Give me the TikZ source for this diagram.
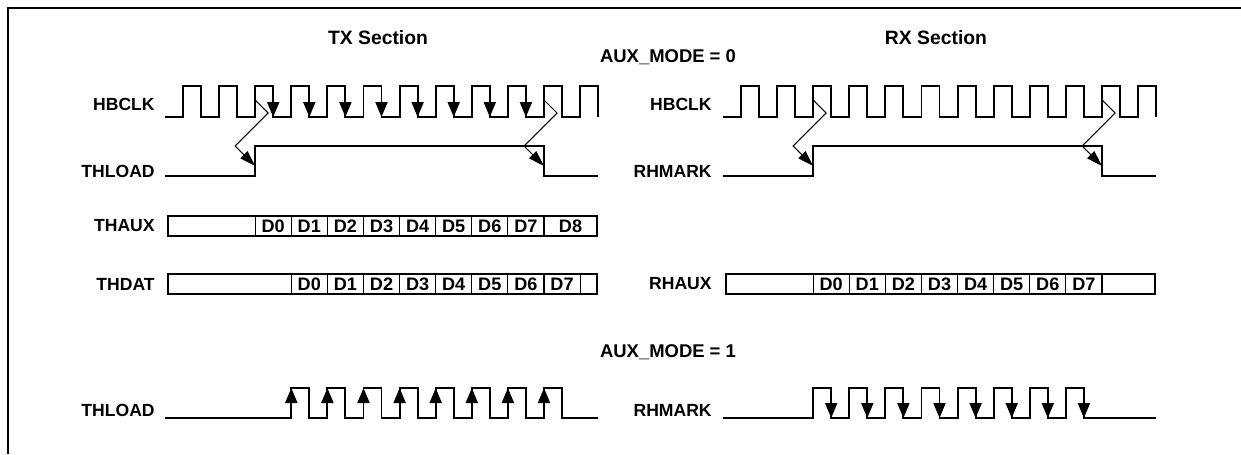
\documentclass[tikz,border=0pt]{standalone}
\usepackage{fontspec}
\setmainfont{Liberation Sans}
\usetikzlibrary{arrows.meta}

\tikzset{
	sig/.style={line width=1.1pt, line join=miter},
	frame/.style={line width=1.1pt},
	bus/.style={line width=1.1pt},
	cell/.style={line width=0.6pt},
	edgetip/.style={line width=1.1pt, -{Triangle[length=0.3cm,width=0.24cm]}},
	cause/.style={line width=0.6pt, -{Triangle[length=0.32cm,width=0.2cm]}},
	sigl/.style={anchor=east, inner sep=0pt, font=\bfseries\fontsize{10pt}{12pt}\selectfont},
	cellt/.style={inner sep=0pt, font=\bfseries\fontsize{10.3pt}{12pt}\selectfont},
	headt/.style={inner sep=0pt, font=\bfseries\fontsize{11pt}{13pt}\selectfont},
	modet/.style={inner sep=0pt, font=\bfseries\fontsize{10.5pt}{12pt}\selectfont}
}

\begin{document}
\begin{tikzpicture}[x=0.02cm, y=-0.02cm]
	\useasboundingbox (0,0) rectangle (1241,454);
	% Frame and headings
	\draw[frame] (8,454) -- (8,8) -- (1241,8);
	\node[headt] (txhead) at (378,38) {TX Section};
	\node[headt] (rxhead) at (936,38) {RX Section};
	\node[modet] (modezero) at (668,57) {AUX\_MODE = 0};
	\node[modet] (modeone) at (668,352) {AUX\_MODE = 1};
	% TX clock
	\node[sigl] (txclk) at (155,104) {HBCLK};
	\draw[sig] (165,117) foreach \k in {0,...,11} { -- ({183+36.1*\k},117) -- ({183+36.1*\k},86) -- ({201+36.1*\k},86) -- ({201+36.1*\k},117) };
	\foreach \k in {2,...,9}
		\draw[edgetip] ({201+36.1*\k},86) -- ({201+36.1*\k},117);
	% TX load, AUX_MODE = 0
	\node[sigl] (txload) at (155,171) {THLOAD};
	\draw[sig] (165,176) -- (255.2,176) -- (255.2,146) -- (544,146) -- (544,176) -- (598,176);
	\coordinate (txclkup) at (255.2,100);
	\coordinate (txloadup) at (255.2,166);
	\coordinate (txclkdn) at (544,100);
	\coordinate (txloaddn) at (544,166);
	\draw[cause] (txclkup) -- ++(13,13) -- ++(-33,33) -- (txloadup);
	\draw[cause] (txclkdn) -- ++(13,13) -- ++(-33,33) -- (txloaddn);
	% TX data
	\node[sigl] (thaux) at (155,226) {THAUX};
	\draw[bus] (168,216) rectangle (597,236);
	\foreach \k in {2,...,10}
		\draw[cell] ({183+36.1*\k},216) -- ({183+36.1*\k},236);
	\foreach \k in {0,...,7}
		\node[cellt] (thauxd\k) at ({201+36.1*(\k+2)},226) {D\k};
	\node[cellt] (thauxdlast) at (570.5,226) {D8};
	\node[sigl] (thdat) at (155,284) {THDAT};
	\draw[bus] (168,274) rectangle (597,294);
	\foreach \k in {3,...,11}
		\draw[cell] ({183+36.1*\k},274) -- ({183+36.1*\k},294);
	\foreach \k in {0,...,7}
		\node[cellt] (thdatd\k) at ({201+36.1*(\k+3)},284) {D\k};
	% TX load, AUX_MODE = 1
	\node[sigl] (txloadb) at (155,410) {THLOAD};
	\draw[sig] (165,418) foreach \k in {3,...,10} { -- ({183+36.1*\k},418) -- ({183+36.1*\k},388) -- ({201+36.1*\k},388) -- ({201+36.1*\k},418) } -- (598,418);
	\foreach \k in {3,...,10}
		\draw[edgetip] ({183+36.1*\k},418) -- ({183+36.1*\k},388);
	% RX clock
	\node[sigl] (rxclk) at (712,104) {HBCLK};
	\draw[sig] (723,117) foreach \k in {0,...,11} { -- ({741+36.1*\k},117) -- ({741+36.1*\k},86) -- ({759+36.1*\k},86) -- ({759+36.1*\k},117) };
	% RX mark, AUX_MODE = 0
	\node[sigl] (rxmark) at (712,171) {RHMARK};
	\draw[sig] (723,176) -- (813.2,176) -- (813.2,146) -- (1102,146) -- (1102,176) -- (1156,176);
	\coordinate (rxclkup) at (813.2,100);
	\coordinate (rxmarkup) at (813.2,166);
	\coordinate (rxclkdn) at (1102,100);
	\coordinate (rxmarkdn) at (1102,166);
	\draw[cause] (rxclkup) -- ++(13,13) -- ++(-33,33) -- (rxmarkup);
	\draw[cause] (rxclkdn) -- ++(13,13) -- ++(-33,33) -- (rxmarkdn);
	% RX data
	\node[sigl] (rhaux) at (712,284) {RHAUX};
	\draw[bus] (726,274) rectangle (1155,294);
	\foreach \k in {2,...,10}
		\draw[cell] ({741+36.1*\k},274) -- ({741+36.1*\k},294);
	\foreach \k in {0,...,7}
		\node[cellt] (rhauxd\k) at ({759+36.1*(\k+2)},284) {D\k};
	% RX mark, AUX_MODE = 1
	\node[sigl] (rxmarkb) at (712,410) {RHMARK};
	\draw[sig] (723,418) foreach \k in {2,...,9} { -- ({741+36.1*\k},418) -- ({741+36.1*\k},388) -- ({759+36.1*\k},388) -- ({759+36.1*\k},418) } -- (1156,418);
	\foreach \k in {2,...,9}
		\draw[edgetip] ({759+36.1*\k},388) -- ({759+36.1*\k},418);
\end{tikzpicture}
\end{document}
